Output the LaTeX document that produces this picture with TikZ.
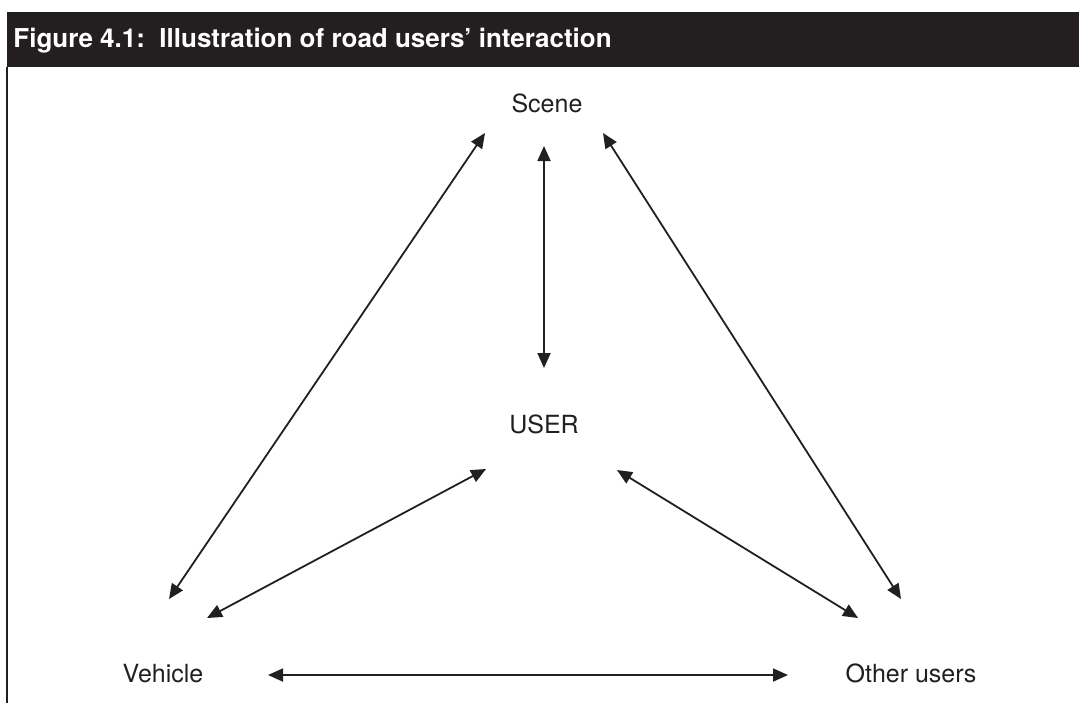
\documentclass[tikz,border=0pt]{standalone}
\usepackage{fontspec}
\setmainfont{TeX Gyre Heros}
\usetikzlibrary{arrows.meta}
\definecolor{ink}{HTML}{231F20}
\tikzset{%
    >={Triangle[length=7.5pt,width=6.5pt]},
    actor/.style={anchor=base,inner sep=0pt,text=ink,font=\fontsize{12.5}{15}\selectfont},
    link/.style={<->,draw=ink,line width=0.9pt}
}
\begin{document}
\begin{tikzpicture}[x=0.5pt,y=-0.5pt]
    \useasboundingbox (0,0) rectangle (1079,703);

    % header bar and frame
    \fill[ink] (7,12) rectangle (1079,67);
    \node[anchor=base west,inner sep=0pt,text=white,font=\bfseries\fontsize{13}{15}\selectfont] (title) at (13,47) {Figure 4.1:\ \ Illustration of road users’ interaction};
    \draw[ink,line width=1pt] (7,67) -- (7,703);

    % actors
    \node[actor] (scene) at (547,112) {Scene};
    \node[actor] (user) at (544,433) {USER};
    \node[actor] (vehicle) at (163,682) {Vehicle};
    \node[actor] (other) at (911,682) {Other users};

    % interactions
    \draw[link] ([shift={(-62,21)}]scene.base) -- ([shift={(6,-83)}]vehicle.base);
    \draw[link] ([shift={(-3,34)}]scene.base) -- ([shift={(0,-65)}]user.base);
    \draw[link] ([shift={(56,21)}]scene.base) -- ([shift={(-10,-83)}]other.base);
    \draw[link] ([shift={(-58,36)}]user.base) -- ([shift={(44,-64)}]vehicle.base);
    \draw[link] ([shift={(73,37)}]user.base) -- ([shift={(-53,-64)}]other.base);
    \draw[link] ([shift={(105,-7)}]vehicle.base) -- ([shift={(-123,-7)}]other.base);
\end{tikzpicture}
\end{document}
